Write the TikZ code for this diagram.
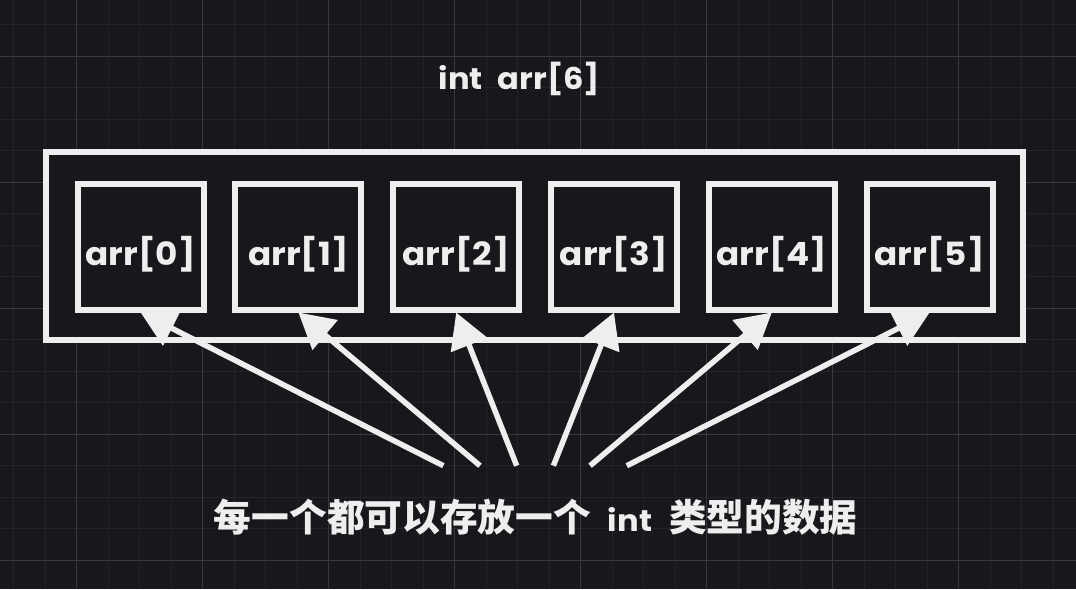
\documentclass[tikz,border=0pt]{standalone}
\usepackage{fontspec}
\usetikzlibrary{arrows.meta}
\newfontfamily\labfont[FakeStretch=1.07]{Poppins}
\newfontfamily\cjkfont{Noto Sans CJK SC}
\definecolor{bg}{HTML}{18171C}
\definecolor{gminor}{HTML}{25232A}
\definecolor{gmajor}{HTML}{3A383F}
\definecolor{ink}{HTML}{EEEEEE}
\begin{document}
\begin{tikzpicture}[x=1pt,y=-1pt,
  cell/.style={draw=ink, line width=6pt, minimum width=126pt, minimum height=126pt, inner sep=0pt},
  frame/.style={draw=ink, line width=6pt, minimum width=976.7pt, minimum height=188pt, inner sep=0pt},
  lab/.style={text=ink, font=\labfont\bfseries\fontsize{32}{40}\selectfont, inner sep=0pt},
  ttl/.style={text=ink, font=\labfont\bfseries\fontsize{30}{36}\selectfont, inner sep=0pt},
  ptr/.style={draw=ink, line width=5.5pt, -{Triangle[length=35pt,width=38pt]}},
]
\fill[bg] (0,0) rectangle (1076,589);
\useasboundingbox (0,0) rectangle (1076,589);
% grid
\foreach \k in {0,...,33} {
  \pgfmathsetmacro\xx{13.7+31.5*\k}
  \draw[gminor, line width=1pt] (\xx,0) -- (\xx,589);
}
\foreach \k in {0,...,17} {
  \pgfmathsetmacro\yy{24.8+31.5*\k}
  \draw[gminor, line width=1pt] (0,\yy) -- (1076,\yy);
}
\foreach \k in {0,...,7} {
  \pgfmathsetmacro\xx{76.7+126*\k}
  \draw[gmajor, line width=1pt] (\xx,0) -- (\xx,589);
}
\foreach \k in {0,...,4} {
  \pgfmathsetmacro\yy{56.3+126*\k}
  \draw[gmajor, line width=1pt] (0,\yy) -- (1076,\yy);
}
% title
\node[ttl, anchor=base] (title) at (519.5,89) {int\hspace{15pt}arr[6]};
% frame
\node[frame, fill=bg] (frame) at (534.65,246) {};
% cells
\foreach \i in {0,...,5} {
  \node[cell] (b\i) at ({140.6+157.8*\i},246.5) {};
  \node[lab, anchor=base] (l\i) at ({140.6+157.8*\i},265) {arr[\i]};
  \coordinate (t\i) at ({443.3+36.7*\i},465.7);
}
% pointers
\foreach \i in {0,...,5} {
  \draw[ptr] (t\i) -- (b\i.south);
}
% note
\node[anchor=base, text=ink, inner sep=0pt] (note) at (535.8,531)
  {\cjkfont\bfseries\fontsize{37.7}{44}\selectfont 每一个都可以存放一个\hspace{17pt}{\labfont\bfseries\fontsize{30}{36}\selectfont int}\hspace{17pt}类型的数据};
\end{tikzpicture}
\end{document}
